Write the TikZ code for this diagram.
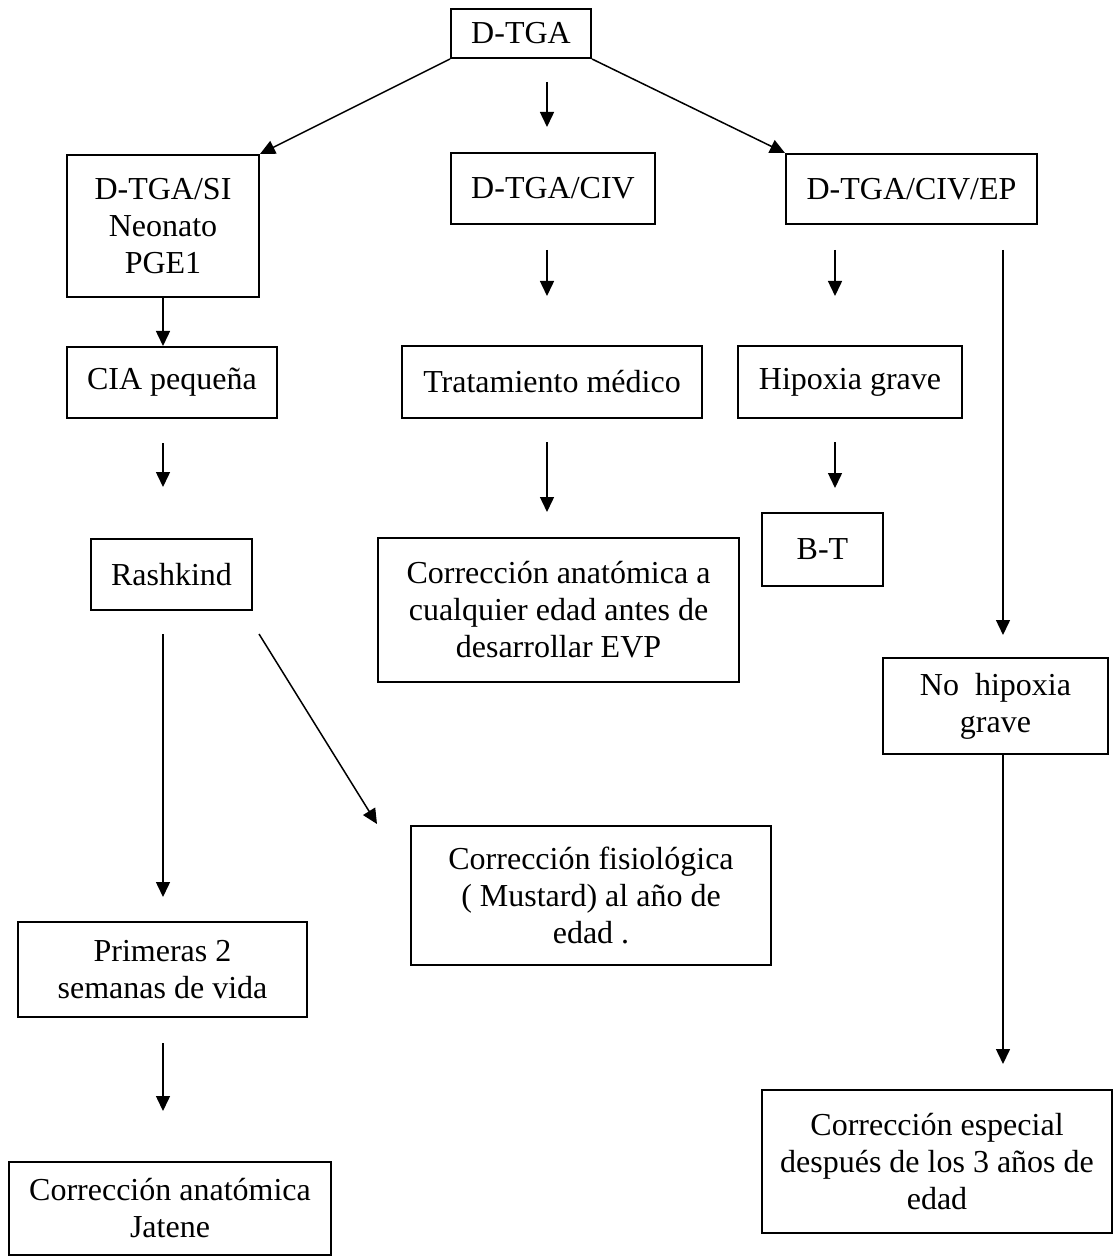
\documentclass[tikz,border=0pt]{standalone}
\usepackage{fontspec}
\setmainfont{Liberation Serif}
\usepackage{tikz}
\usetikzlibrary{arrows.meta,positioning}
\newcommand{\boxfont}{\fontsize{16}{18.5}\selectfont}
\tikzset{
  flowbox/.style={rectangle,draw=black,line width=1pt,fill=white,
    inner sep=2pt,align=center,font=\boxfont},
  arrow/.style={-{Triangle[length=7.5pt,width=7pt]},line width=0.75pt}
}

\begin{document}
\begin{tikzpicture}[x=0.5pt,y=-0.5pt]
  \path[use as bounding box,fill=white] (0,0) rectangle (1119,1256);
  % columns of the vertical arrows
  \coordinate (colA) at (163,0);
  \coordinate (colB) at (547,0);
  \coordinate (colC) at (835,0);
  \coordinate (colD) at (1003,0);
  % boxes
  \node[flowbox, minimum width=70pt, minimum height=24.5pt] (dtga) at (521,33.5) {D-TGA};
  \node[flowbox, minimum width=96pt, minimum height=71pt] (si) at (163,226) {D-TGA/SI\\Neonato\\PGE1};
  \node[flowbox, minimum width=102pt, minimum height=35.5pt] (civ) at (553,188.5) {D-TGA/CIV};
  \node[flowbox, minimum width=125.5pt, minimum height=35pt] (ep) at (911.5,189) {D-TGA/CIV/EP};
  \node[flowbox, minimum width=105pt, minimum height=35.5pt] (cia) at (172,382.5) {CIA pequeña};
  \node[flowbox, minimum width=150pt, minimum height=36pt] (trat) at (552,382) {Tratamiento médico};
  \node[flowbox, minimum width=112pt, minimum height=36pt] (hip) at (850,382) {Hipoxia grave};
  \node[flowbox, minimum width=80.5pt, minimum height=35.5pt] (rash) at (171.5,574.5) {Rashkind};
  \node[flowbox, minimum width=180.5pt, minimum height=72pt] (corran) at (558.5,610)
    {Corrección anatómica a\\cualquier edad antes de\\desarrollar EVP};
  \node[flowbox, minimum width=60.5pt, minimum height=36.5pt] (bt) at (822.5,549.5) {B-T};
  \node[flowbox, minimum width=112.5pt, minimum height=48pt] (nohip) at (995.5,706) {No\ \ hipoxia\\grave};
  \node[flowbox, minimum width=180pt, minimum height=69.5pt] (fisio) at (591,895.5)
    {Corrección fisiológica\\( Mustard) al año de\\edad .};
  \node[flowbox, minimum width=144.5pt, minimum height=47.5pt] (prim) at (162.5,969.5) {Primeras 2\\semanas de vida};
  \node[flowbox, minimum width=161pt, minimum height=46.5pt] (jat) at (170,1208.5) {Corrección anatómica\\Jatene};
  \node[flowbox, minimum width=175pt, minimum height=71.5pt] (esp) at (937,1161.5)
    {Corrección especial\\después de los 3 años de\\edad};
  % arrows
  \draw[arrow] (dtga.south west) -- (si.north east);
  \draw[arrow] (dtga.south east) -- (ep.north west);
  \draw[arrow, shorten <=11.5pt, shorten >=12.5pt] (colB |- dtga.south) -- (colB |- civ.north);
  \draw[arrow, shorten <=12.5pt, shorten >=24.5pt] (colB |- civ.south) -- (colB |- trat.north);
  \draw[arrow, shorten <=11.5pt, shorten >=12.5pt] (colB |- trat.south) -- (colB |- corran.north);
  \draw[arrow] (colA |- si.south) -- (colA |- cia.north);
  \draw[arrow, shorten <=12pt, shorten >=25.5pt] (colA |- cia.south) -- (colA |- rash.north);
  \draw[arrow, shorten <=11.5pt, shorten >=12pt] (colA |- rash.south) -- (colA |- prim.north);
  \draw[arrow] ([xshift=3pt,yshift=-11.5pt]rash.south east) -- ([xshift=-16.5pt,yshift=0.5pt]fisio.north west);
  \draw[arrow, shorten <=12.5pt, shorten >=25pt] (colA |- prim.south) -- (colA |- jat.north);
  \draw[arrow, shorten <=12.5pt, shorten >=24.5pt] (colC |- ep.south) -- (colC |- hip.north);
  \draw[arrow, shorten <=11.5pt, shorten >=12pt] (colC |- hip.south) -- (colC |- bt.north);
  \draw[arrow, shorten <=12.5pt, shorten >=11pt] (colD |- ep.south) -- (colD |- nohip.north);
  \draw[arrow, shorten >=12.5pt] (colD |- nohip.south) -- (colD |- esp.north);
\end{tikzpicture}
\end{document}
